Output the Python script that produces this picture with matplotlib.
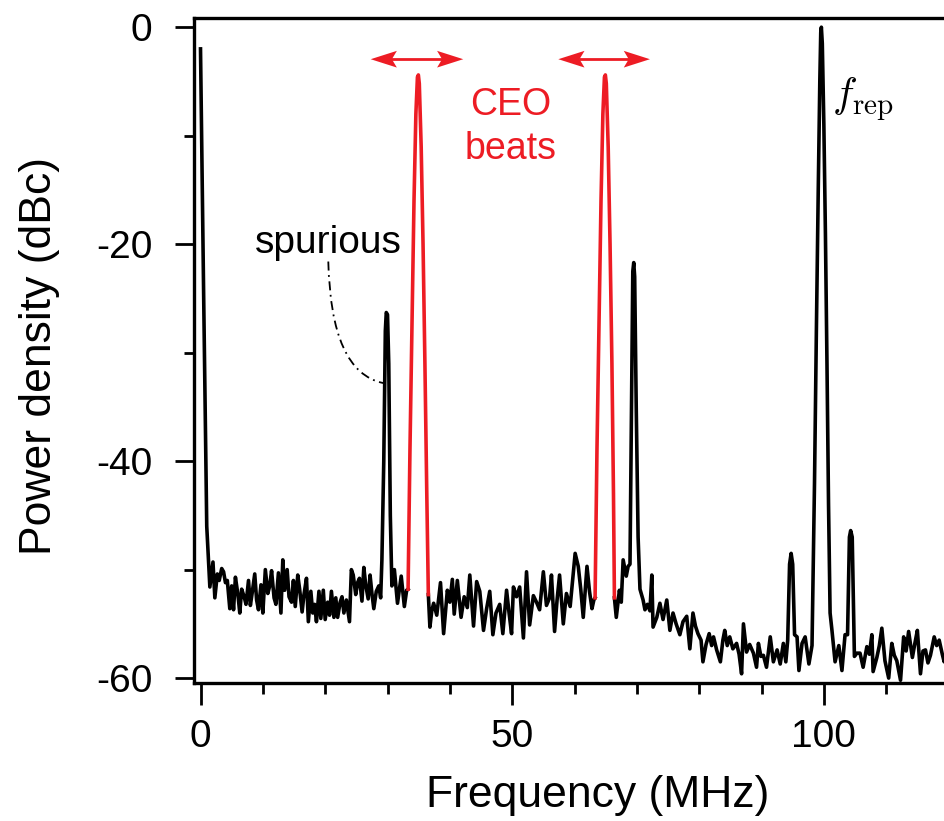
import numpy as np
import matplotlib
matplotlib.use("Agg")
import matplotlib.pyplot as plt
from matplotlib.patches import Polygon, PathPatch
from matplotlib.path import Path
from matplotlib.ticker import MultipleLocator

plt.rcParams['font.family'] = ['Liberation Sans', 'DejaVu Sans']
plt.rcParams['mathtext.fontset'] = 'cm'

RED = '#ED1C24'

# RF spectrum, (frequency MHz, power dBc)
dc_peak = [(0.0, -2.0), (0.5, -24.5), (1.0, -46.0)]
noise_a = [(1.5, -51.6), (2.0, -49.3), (2.3, -52.6), (2.7, -50.4), (3.0, -51.0), (3.4, -49.9),
           (3.7, -50.2), (4.0, -51.2), (4.3, -51.0), (4.7, -53.6), (5.0, -51.5), (5.3, -53.7),
           (5.6, -50.7), (6.0, -52.3), (6.3, -54.0), (6.6, -51.8), (7.0, -52.5), (7.3, -53.2),
           (7.7, -51.0), (8.0, -53.3), (8.3, -52.1), (8.7, -50.4), (9.0, -52.8), (9.3, -53.7),
           (9.7, -51.4), (10.0, -54.0), (10.4, -50.0), (10.8, -52.2), (11.1, -51.5), (11.4, -50.1),
           (11.8, -52.6), (12.1, -53.2), (12.5, -50.3), (12.9, -54.0), (13.2, -49.1), (13.5, -51.9),
           (13.9, -50.0), (14.2, -52.5), (14.6, -53.0), (14.9, -51.0), (15.2, -53.4), (15.6, -50.5),
           (15.9, -51.8), (16.3, -53.9), (16.6, -52.3), (17.0, -50.8), (17.3, -54.8), (17.7, -52.0),
           (18.0, -54.0), (18.3, -53.2), (18.6, -54.8), (19.0, -52.0), (19.3, -54.5), (19.7, -51.9),
           (20.0, -54.6), (20.4, -53.0), (20.7, -54.2), (21.0, -52.0), (21.4, -54.4), (21.7, -52.6),
           (22.0, -54.4), (22.4, -53.0), (22.7, -52.5), (23.0, -54.0), (23.4, -52.8), (23.9, -54.8),
           (24.2, -50.0), (24.5, -50.5), (24.9, -52.3), (25.2, -51.2), (25.5, -50.8), (25.9, -52.9),
           (26.2, -49.8), (26.5, -51.4), (26.9, -52.7), (27.2, -50.5), (27.5, -52.2), (27.8, -53.6),
           (28.2, -52.0), (28.6, -51.5), (28.9, -52.6)]
spur_peak = [(29.1, -49.1), (29.4, -40.0), (29.65, -28.0), (29.8, -26.3), (30.0, -26.5),
             (30.2, -31.0), (30.45, -45.0), (30.7, -51.5)]
noise_b = [(31.1, -50.0), (31.6, -53.1), (32.2, -50.6), (32.7, -53.4), (33.07, -51.9)]
ceo_beat_1 = [(33.3, -51.8), (33.6, -39.0), (33.95, -26.6), (34.25, -16.0), (34.55, -8.0),
              (34.8, -4.6), (34.95, -4.4), (35.1, -5.2), (35.4, -11.0), (35.7, -20.0),
              (36.0, -31.0), (36.3, -43.0), (36.55, -52.3)]
noise_c = [(36.8, -55.3), (37.1, -53.8), (37.4, -53.1), (37.9, -54.2), (38.5, -51.2), (39.0, -55.9),
           (39.6, -51.9), (40.0, -53.0), (40.4, -50.9), (40.7, -54.1), (41.2, -51.0), (41.8, -54.4),
           (42.3, -52.5), (42.8, -53.5), (43.2, -50.5), (43.8, -55.2), (44.3, -51.1), (44.8, -52.0),
           (45.4, -55.6), (45.9, -53.6), (46.4, -52.0), (46.9, -56.0), (47.4, -54.0), (48.0, -53.2),
           (48.5, -55.9), (49.1, -51.9), (49.5, -54.0), (49.9, -55.9), (50.2, -51.6), (50.7, -52.5),
           (51.2, -51.6), (51.8, -56.3), (52.3, -50.2), (52.8, -55.1), (53.4, -52.4), (53.9, -53.0),
           (54.4, -53.7), (55.0, -50.2), (55.5, -53.3), (56.0, -52.6), (56.3, -50.5), (56.8, -55.7),
           (57.2, -52.8), (57.6, -50.5), (58.2, -55.0), (58.7, -52.2), (59.3, -53.4), (59.7, -51.0),
           (60.1, -48.5), (60.6, -49.7), (61.0, -51.8), (61.4, -54.4), (62.0, -49.7), (62.4, -52.0),
           (62.8, -53.6), (63.1, -52.8)]
ceo_beat_2 = [(63.3, -52.6), (63.6, -39.0), (63.95, -26.6), (64.25, -16.0), (64.55, -8.0),
              (64.8, -4.6), (64.95, -4.4), (65.1, -5.2), (65.4, -11.0), (65.7, -20.0),
              (66.0, -31.0), (66.25, -43.0), (66.4, -52.6)]
noise_d = [(66.7, -54.4), (67.2, -51.9), (67.5, -53.0), (67.8, -49.1), (68.3, -50.6), (68.6, -49.7)]
peak_69 = [(68.9, -49.5), (69.15, -35.0), (69.35, -22.5), (69.5, -21.7), (69.65, -23.0),
           (69.9, -35.0), (70.2, -47.0), (70.5, -51.8)]
noise_e = [(71.0, -52.8), (71.3, -53.7), (71.7, -53.2), (72.1, -53.8), (72.4, -50.5), (72.6, -55.3),
           (73.2, -54.4), (73.7, -53.1), (74.2, -54.6), (74.8, -52.8), (75.3, -55.6), (75.8, -54.0),
           (76.3, -55.0), (76.9, -56.0), (77.4, -54.8), (78.0, -54.3), (78.5, -57.3), (79.0, -54.0),
           (79.4, -55.2), (79.8, -55.9), (80.3, -56.5), (80.6, -58.5), (81.1, -56.9), (81.6, -55.9),
           (82.0, -57.0), (82.3, -56.2), (82.8, -57.4), (83.4, -58.5), (83.8, -56.5), (84.1, -55.6),
           (84.5, -57.0), (84.9, -56.2), (85.4, -57.3), (86.0, -56.8), (86.4, -57.8), (86.8, -59.6),
           (87.1, -55.0), (87.6, -57.6), (88.1, -56.9), (88.7, -57.7), (89.2, -59.0), (89.5, -56.8),
           (89.9, -58.0), (90.3, -57.9), (90.8, -59.0), (91.4, -56.2), (91.9, -58.5), (92.5, -57.4),
           (93.0, -58.7), (93.5, -56.8), (93.9, -58.5)]
peak_94 = [(94.2, -56.5), (94.5, -49.5), (94.75, -48.5), (95.0, -49.5), (95.3, -56.0)]
noise_f = [(95.7, -56.2), (96.0, -59.3), (96.5, -56.8), (97.0, -56.2), (97.6, -58.7)]
rep_peak = [(98.1, -57.0), (98.5, -42.0), (98.8, -28.0), (99.1, -15.0), (99.35, -5.0),
            (99.5, -0.5), (99.6, 0.0), (99.75, -1.5), (100.0, -9.0), (100.25, -19.0),
            (100.5, -31.0), (100.75, -44.0), (101.0, -54.0)]
noise_g = [(101.3, -55.6), (101.8, -58.5), (102.4, -57.0), (102.9, -59.3), (103.4, -56.0)]
peak_104 = [(103.8, -56.0), (104.1, -47.0), (104.3, -46.4), (104.55, -47.0), (104.9, -58.0)]
noise_h = [(105.3, -57.7), (105.8, -57.7), (106.3, -59.0), (106.9, -57.1), (107.3, -57.8), (107.7, -56.0),
           (107.9, -59.4), (108.5, -58.1), (108.9, -57.0), (109.3, -55.4), (109.8, -58.4), (110.4, -60.0),
           (110.9, -56.8), (111.3, -57.9), (111.7, -58.4), (112.3, -60.2), (112.8, -56.2), (113.2, -57.5),
           (113.6, -55.7), (114.2, -58.1), (114.6, -56.8), (115.0, -55.6), (115.5, -59.6), (115.9, -57.5),
           (116.3, -57.4), (116.7, -58.6), (117.1, -57.9), (117.7, -56.2), (118.1, -57.0), (118.5, -56.5),
           (119.0, -57.8), (119.3, -58.5), (119.8, -57.0), (120.5, -58.0)]

segments = [dc_peak, noise_a, spur_peak, noise_b, ceo_beat_1, noise_c, ceo_beat_2, noise_d,
            peak_69, noise_e, peak_94, noise_f, rep_peak, noise_g, peak_104, noise_h]
red_segments = [ceo_beat_1, ceo_beat_2]

# tuning range of each CEO beat (MHz), drawn as double arrows
ceo_ranges = [(27.3, 42.15), (57.4, 72.1)]

# black trace: whole spectrum, with the inside of the CEO beats left out
bx, by = [], []
for seg in segments:
    f, p = zip(*seg)
    p = list(p)
    if any(seg is r for r in red_segments):
        p = [p[0]] + [np.nan] * (len(p) - 2) + [p[-1]]
    bx += list(f)
    by += p

fig = plt.figure(figsize=(9.44, 8.21), dpi=100)
ax = fig.add_axes([0.2058, 0.1681, 0.8056, 0.8100])

ax.plot(bx, by, color='black', lw=2.6, zorder=3)
for seg in red_segments:
    f, p = zip(*seg)
    ax.plot(f, p, color=RED, lw=2.6, zorder=4)

ax.set_xlim(-1, 121)
ax.set_ylim(-60.45, 0.85)

for s in ['left', 'bottom', 'top']:
    ax.spines[s].set_linewidth(2.4)
ax.spines['right'].set_visible(False)

ax.xaxis.set_major_locator(MultipleLocator(50))
ax.xaxis.set_minor_locator(MultipleLocator(10))
ax.yaxis.set_major_locator(MultipleLocator(20))
ax.yaxis.set_minor_locator(MultipleLocator(10))
ax.tick_params(axis='x', which='major', direction='out', length=16, width=2.0, labelsize=28, pad=10)
ax.tick_params(axis='x', which='minor', direction='out', length=8, width=2.0)
ax.tick_params(axis='y', which='major', direction='out', length=14, width=2.0, labelsize=28, pad=16)
ax.tick_params(axis='y', which='minor', direction='out', length=7, width=2.0)
ax.tick_params(top=False, right=False, which='both')
ax.set_yticks([0, -20, -40, -60])
ax.set_yticklabels(['0', '-20', '-40', '-60'])

fig.text(598 / 944, 1 - 807 / 821, 'Frequency (MHz)', fontsize=32, ha='center', va='baseline')
fig.text(40 / 944, 1 - 356 / 821, 'Power density (dBc)', fontsize=32, ha='center', va='center',
         rotation=90)

# annotations
ax.text(49.8, -9.2, 'CEO\nbeats', color=RED, fontsize=27, ha='center', va='center', linespacing=1.3)

# double arrows with notched heads
ya = -2.95
hl, hw, notch = 4.2, 0.77, 3.4   # head length (MHz), half width (dB), notch position (MHz)
for x0, x1 in ceo_ranges:
    ax.plot([x0 + notch, x1 - notch], [ya, ya], color=RED, lw=2.0, zorder=5)
    for tip, d in [(x0, 1), (x1, -1)]:
        ax.add_patch(Polygon([(tip, ya), (tip + d * hl, ya + hw), (tip + d * notch, ya),
                              (tip + d * hl, ya - hw)], closed=True, color=RED, lw=0, zorder=5))

ax.text(101.3, -6.6, r'$f_\mathrm{rep}$', fontsize=30, ha='left', va='center')

ax.text(20.5, -19.9, 'spurious', fontsize=28, ha='center', va='center')
curve = Path([(20.5, -21.6), (20.9, -31.8), (29.3, -32.8)], [Path.MOVETO, Path.CURVE3, Path.CURVE3])
ax.add_patch(PathPatch(curve, fill=False, lw=1.3, color='black', linestyle=(0, (5, 2.5, 1, 2.5))))

fig.savefig('out.png', dpi=100)
